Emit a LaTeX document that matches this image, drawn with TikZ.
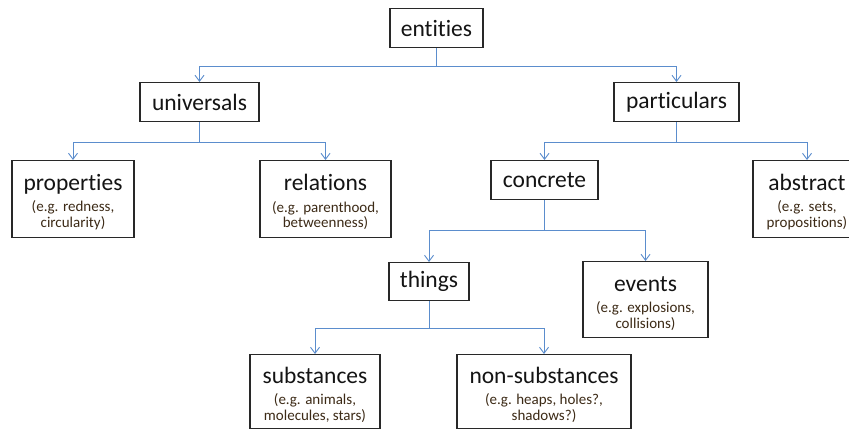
\documentclass[tikz,border=0pt]{standalone}
\usepackage{fontspec}
\setmainfont{Carlito}[Ligatures={NoCommon}]
\usetikzlibrary{arrows.meta}

\definecolor{linkblue}{RGB}{91,141,205}
\definecolor{boxline}{RGB}{40,40,40}
\definecolor{titletext}{RGB}{20,20,20}
\definecolor{notetext}{RGB}{60,42,22}

\newcommand{\lbltitle}[1]{{\fontsize{23.5}{23.5}\selectfont #1}}
\newcommand{\lblhead}[1]{{\fontsize{23.5}{23.5}\selectfont\rule{0pt}{22pt}#1}}
\newcommand{\lblnote}[1]{{\color{notetext}#1}}

\tikzset{
  catbox/.style={draw=boxline, line width=1.1pt, inner sep=0pt, anchor=north,
    align=center, text=titletext, font=\fontsize{15}{15.5}\selectfont},
  link/.style={draw=linkblue, line width=0.9pt,
    -{Straight Barb[length=6pt,width=9pt,line width=0.9pt]}},
}

\begin{document}
\begin{tikzpicture}[x=1pt,y=-1pt]
  \clip (0,0) rectangle (849,430);
  \fill[white] (0,0) rectangle (849,430);

  % top level
  \node[catbox, minimum width=93pt, minimum height=39pt] (entities) at (436.5,8) {\lbltitle{entities}};

  % second level
  \node[catbox, minimum width=119pt, minimum height=39pt] (universals) at (199.5,82) {\lbltitle{universals}};
  \node[catbox, minimum width=125pt, minimum height=39pt] (particulars) at (676.5,82) {\lbltitle{particulars}};

  % third level
  \node[catbox, minimum width=122pt, minimum height=77pt] (properties) at (73,160)
    {\lblhead{properties}\\[6pt]\lblnote{(e.g. redness,}\\\lblnote{circularity)}};
  \node[catbox, minimum width=131pt, minimum height=77pt] (relations) at (325.5,160)
    {\lblhead{relations}\\[6pt]\lblnote{(e.g. parenthood,}\\\lblnote{betweenness)}};
  \node[catbox, minimum width=107pt, minimum height=39pt] (concrete) at (544.5,160) {\lbltitle{concrete}};
  \node[catbox, minimum width=108pt, minimum height=77pt] (abstract) at (807,160)
    {\lblhead{abstract}\\[6pt]\lblnote{(e.g. sets,}\\\lblnote{propositions)}};

  % fourth level
  \node[catbox, minimum width=80pt, minimum height=38pt] (things) at (429,262) {\lbltitle{things}};
  \node[catbox, minimum width=125pt, minimum height=76pt] (events) at (645.5,261)
    {\lblhead{events}\\[6pt]\lblnote{(e.g. explosions,}\\\lblnote{collisions)}};

  % fifth level
  \node[catbox, minimum width=130pt, minimum height=74pt] (substances) at (315,354)
    {\lblhead{substances}\\[6pt]\lblnote{(e.g. animals,}\\\lblnote{molecules, stars)}};
  \node[catbox, minimum width=174pt, minimum height=74pt] (nonsubstances) at (544,354)
    {\lblhead{non-substances}\\[6pt]\lblnote{(e.g. heaps, holes?,}\\\lblnote{shadows?)}};

  % elbow connectors
  \draw[link] (entities.south) -- ++(0,18) -| (universals.north);
  \draw[link] (entities.south) -- ++(0,18) -| (particulars.north);
  \draw[link] (universals.south) -- ++(0,20) -| (properties.north);
  \draw[link] (universals.south) -- ++(0,20) -| (relations.north);
  \draw[link] (particulars.south) -- ++(0,20) -| (concrete.north);
  \draw[link] (particulars.south) -- ++(0,20) -| (abstract.north);
  \draw[link] (concrete.south) -- ++(0,30) -| (things.north);
  \draw[link] (concrete.south) -- ++(0,30) -| (events.north);
  \draw[link] (things.south) -- ++(0,27) -| (substances.north);
  \draw[link] (things.south) -- ++(0,27) -| (nonsubstances.north);
\end{tikzpicture}
\end{document}
